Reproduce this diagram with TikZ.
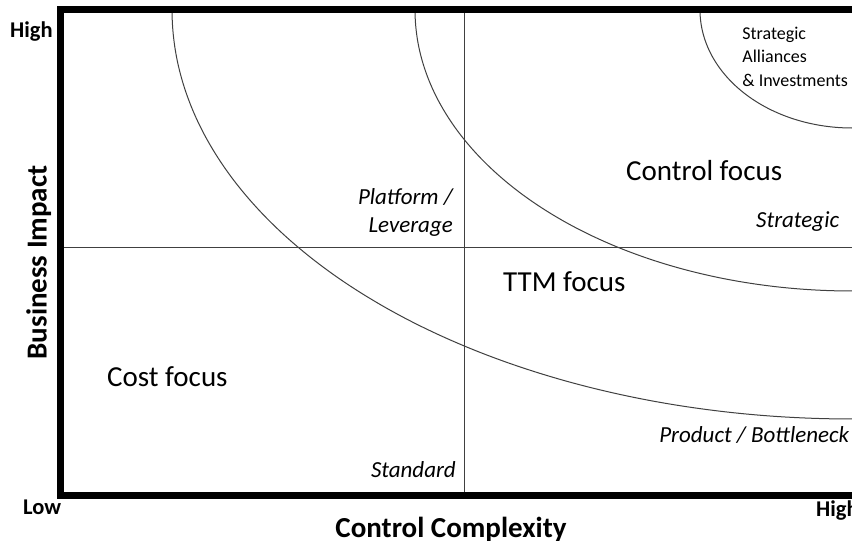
\documentclass[tikz,border=0pt]{standalone}
\usepackage{fontspec}
\setmainfont{Carlito}
\begin{document}
\begin{tikzpicture}[x=1pt,y=-1pt,
  thinline/.style={draw=black!75, line width=1pt},
  axisline/.style={draw=black, line width=7.3pt, line join=miter},
  quad/.style={font=\fontsize{29}{34}\selectfont, inner sep=0pt},
  lab/.style={font=\fontsize{23}{28}\selectfont\itshape, inner sep=0pt},
  small/.style={font=\fontsize{18}{21}\selectfont, inner sep=0pt},
  axlab/.style={font=\fontsize{29}{34}\selectfont\bfseries, inner sep=0pt},
  ticklab/.style={font=\fontsize{22.5}{27}\selectfont\bfseries, inner sep=0pt}]
\useasboundingbox (0,0) rectangle (852,541);
\clip (0,0) rectangle (852,541);
\fill[white] (0,0) rectangle (852,541);
% curves
\draw[thinline] plot[domain=0:90, samples=80, smooth] ({852-680*cos(\x)},{10+409*sin(\x)});
\draw[thinline] plot[domain=0:90, samples=80, smooth] ({852-437*cos(\x)},{10+281*sin(\x)});
\draw[thinline] plot[domain=0:90, samples=60, smooth] ({852-152*cos(\x)},{10+118*sin(\x)});
% dividers
\coordinate (vt) at (464.5,9.7);
\coordinate (vb) at (464.5,495.5);
\coordinate (hl) at (60.8,247.6);
\coordinate (hr) at (852,247.6);
\draw[thinline] (vt) -- (vb);
\draw[thinline] (hl) -- (hr);
% axes
\coordinate (tr) at (853,9.7);
\coordinate (tl) at (60.8,9.7);
\coordinate (bl) at (60.8,495.5);
\coordinate (br) at (853,495.5);
\draw[axisline] (tr) -- (tl) -- (bl) -- (br);
% tick labels
\node[ticklab, anchor=base west] (hitop) at (10,37.3) {High};
\node[ticklab, anchor=base west] (low) at (23,514.5) {Low};
\node[ticklab, anchor=base west] (hiright) at (816,516) {High};
% axis labels
\node[axlab, anchor=base] (xlab) at (451,537) {Control Complexity};
\node[axlab, rotate=90, anchor=base] (ylab) at (46.5,262.5) {Business Impact};
% quadrant labels
\node[lab, anchor=base east] (plat) at (453,204.3) {Platform /};
\node[lab, anchor=base east] (lev) at (453,232) {Leverage};
\node[lab, anchor=base east] (std) at (456,477.7) {Standard};
\node[lab, anchor=base east] (strat) at (839.3,227.3) {Strategic};
\node[lab, anchor=base east] (prod) at (849.3,442.3) {Product / Bottleneck};
% focus labels
\node[quad, anchor=base west] (ctrl) at (626,180) {Control focus};
\node[quad, anchor=base west] (ttm) at (503,291.7) {TTM focus};
\node[quad, anchor=base west] (cost) at (107,386.7) {Cost focus};
% strategic alliances
\node[small, anchor=base west] (sa1) at (742.2,39.3) {Strategic};
\node[small, anchor=base west] (sa2) at (742.2,62.7) {Alliances};
\node[small, anchor=base west] (sa3) at (742.2,86) {\& Investments};
\end{tikzpicture}
\end{document}
